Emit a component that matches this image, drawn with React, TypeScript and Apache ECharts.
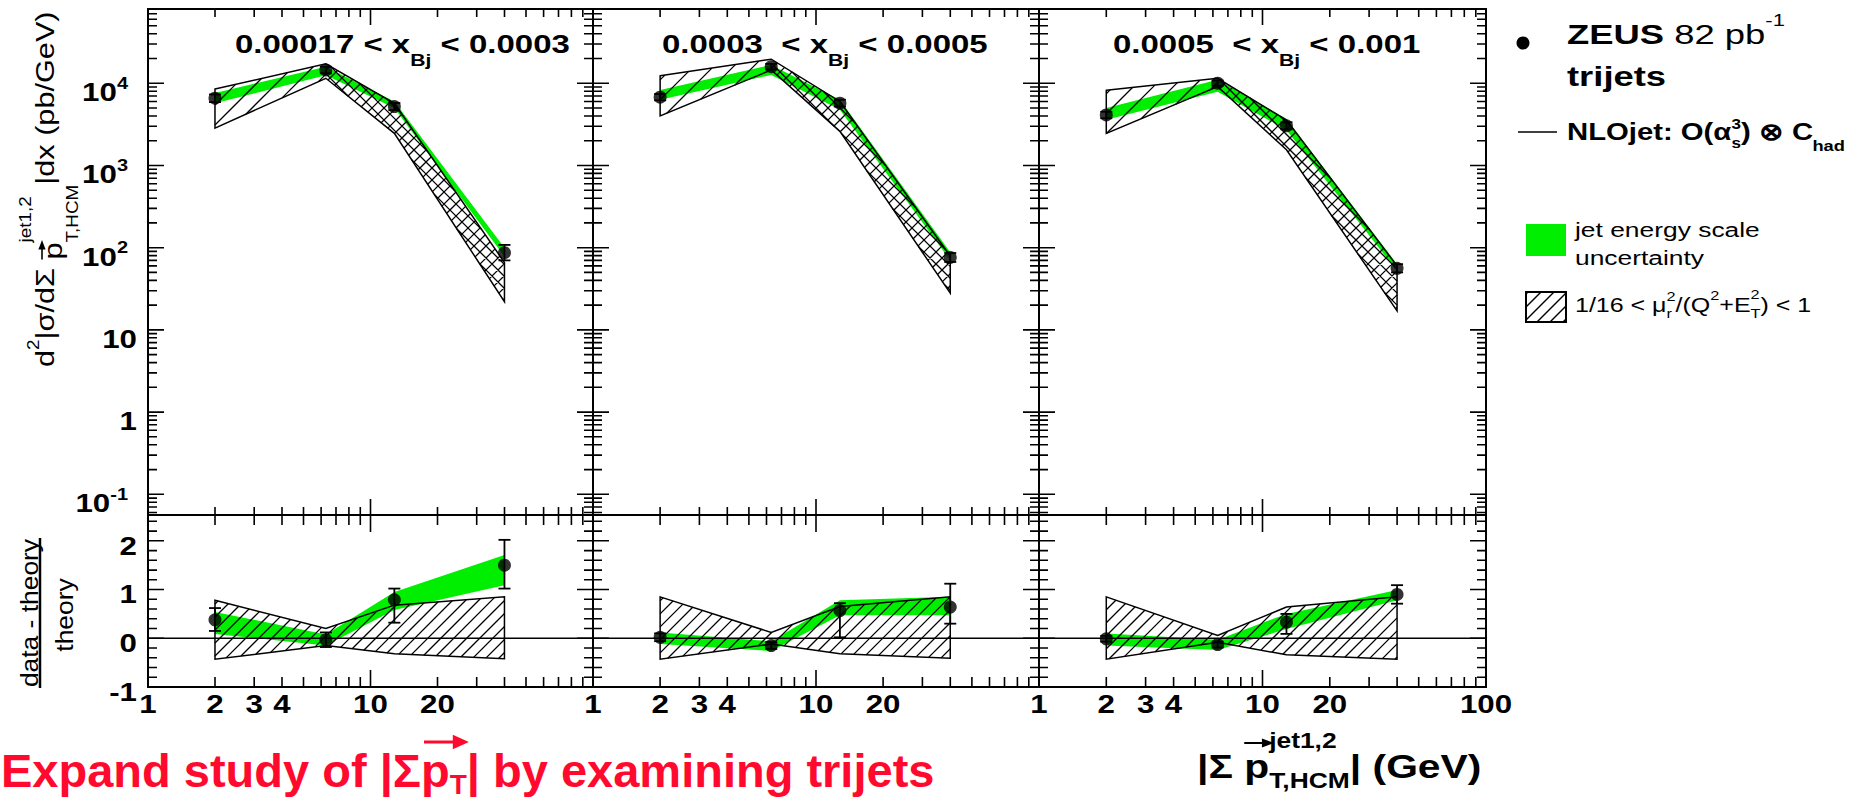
import React, { useEffect, useRef } from 'react';
import * as echarts from 'echarts';

const FONT = '"Liberation Sans", Arial, Helvetica, sans-serif';
const GREEN = '#00ee00';
const RED = '#ff0a2e';

// bin centres of |sum pT| (GeV)
const X_BINS = [2, 6.3, 12.8, 40];

// x_Bj ranges of the three columns
const TITLE_LOW = ['0.00017 < x', 'Bj', ' < 0.0003'];
const TITLE_MID = ['0.0003\u00a0 < x', 'Bj', ' < 0.0005'];
const TITLE_HIGH = ['0.0005\u00a0 < x', 'Bj', ' < 0.001'];

// measured cross sections (pb/GeV) and their error ranges
const XSEC_LOW = [6580, 14500, 5200, 87];
const XSEC_LOW_ERR = [[5900, 7300], [13200, 15900], [4700, 5750], [70, 108]];
const XSEC_MID = [6760, 15900, 5720, 76];
const XSEC_MID_ERR = [[6200, 7400], [14700, 17200], [5200, 6300], [67, 86]];
const XSEC_HIGH = [4120, 10000, 3030, 56];
const XSEC_HIGH_ERR = [[3750, 4500], [9300, 10800], [2750, 3350], [50, 63]];

// NLO scale-variation band (pb/GeV)
const NLO_LOW_LO = [2850, 11500, 2460, 22];
const NLO_LOW_HI = [8500, 17200, 5700, 66];
const NLO_MID_LO = [4000, 14500, 2600, 28];
const NLO_MID_HI = [12300, 19600, 6000, 79];
const NLO_HIGH_LO = [2450, 9100, 1550, 17];
const NLO_HIGH_HI = [8200, 11500, 3560, 60];

// jet energy scale band (pb/GeV)
const JES_LOW_LO = [5700, 12500, 5000, 78];
const JES_LOW_HI = [7600, 15900, 6000, 100];
const JES_MID_LO = [6300, 12600, 4750, 70];
const JES_MID_HI = [8300, 16700, 6300, 88];
const JES_HIGH_LO = [3600, 7900, 2700, 52];
const JES_HIGH_HI = [5000, 11000, 3700, 63];

// (data - theory) / theory
const RATIO_LOW = [0.38, -0.03, 0.79, 1.5];
const RATIO_LOW_ERR = [[0.15, 0.62], [-0.18, 0.12], [0.32, 1.02], [1.02, 2.02]];
const RATIO_MID = [0.02, -0.15, 0.57, 0.64];
const RATIO_MID_ERR = [[-0.06, 0.1], [-0.22, -0.08], [0.02, 0.72], [0.3, 1.12]];
const RATIO_HIGH = [-0.01, -0.13, 0.33, 0.9];
const RATIO_HIGH_ERR = [[-0.07, 0.05], [-0.19, -0.07], [0.09, 0.5], [0.71, 1.09]];

const RNLO_LOW_LO = [-0.43, -0.15, -0.32, -0.42];
const RNLO_LOW_HI = [0.78, 0.2, 0.68, 0.85];
const RNLO_MID_LO = [-0.43, -0.12, -0.32, -0.41];
const RNLO_MID_HI = [0.85, 0.12, 0.65, 0.85];
const RNLO_HIGH_LO = [-0.43, -0.08, -0.34, -0.43];
const RNLO_HIGH_HI = [0.85, 0.06, 0.64, 0.85];

const RJES_LOW_LO = [0.09, -0.15, 0.58, 1.09];
const RJES_LOW_HI = [0.54, 0.08, 0.95, 1.71];
const RJES_MID_LO = [-0.12, -0.26, 0.47, 0.47];
const RJES_MID_HI = [0.12, -0.06, 0.78, 0.85];
const RJES_HIGH_LO = [-0.15, -0.24, 0.19, 0.78];
const RJES_HIGH_HI = [0.1, -0.03, 0.5, 0.99];

// axis ticks and labels
const X_TICKS = [2, 3, 4, 5, 6, 7, 8, 9, 10, 20, 30, 40, 50, 60, 70, 80, 90];
const X_LABELS = [1, 2, 3, 4, 10, 20];
const X_LABELS_LAST = [1, 2, 3, 4, 10, 20, 100];
const Y_EXPONENTS = [-1, 0, 1, 2, 3, 4];
const RATIO_LABELS = [2, 1, 0, -1];
const Y_MIN = 0.056;
const Y_MAX = 80000;
const RATIO_MIN = -1;
const RATIO_MAX = 2.53;

const PANELS = [
  { title: TITLE_LOW, titleX: 235, xsec: XSEC_LOW, xsecErr: XSEC_LOW_ERR, nloLo: NLO_LOW_LO, nloHi: NLO_LOW_HI, jesLo: JES_LOW_LO, jesHi: JES_LOW_HI, ratio: RATIO_LOW, ratioErr: RATIO_LOW_ERR, rnloLo: RNLO_LOW_LO, rnloHi: RNLO_LOW_HI, rjesLo: RJES_LOW_LO, rjesHi: RJES_LOW_HI },
  { title: TITLE_MID, titleX: 662, xsec: XSEC_MID, xsecErr: XSEC_MID_ERR, nloLo: NLO_MID_LO, nloHi: NLO_MID_HI, jesLo: JES_MID_LO, jesHi: JES_MID_HI, ratio: RATIO_MID, ratioErr: RATIO_MID_ERR, rnloLo: RNLO_MID_LO, rnloHi: RNLO_MID_HI, rjesLo: RJES_MID_LO, rjesHi: RJES_MID_HI },
  { title: TITLE_HIGH, titleX: 1113, xsec: XSEC_HIGH, xsecErr: XSEC_HIGH_ERR, nloLo: NLO_HIGH_LO, nloHi: NLO_HIGH_HI, jesLo: JES_HIGH_LO, jesHi: JES_HIGH_HI, ratio: RATIO_HIGH, ratioErr: RATIO_HIGH_ERR, rnloLo: RNLO_HIGH_LO, rnloHi: RNLO_HIGH_HI, rjesLo: RJES_HIGH_LO, rjesHi: RJES_HIGH_HI },
];

const PANEL_LEFT = [148, 593, 1039];
const PANEL_WIDTH = [445, 446, 447];
const UPPER_TOP = 9;
const UPPER_H = 506;
const LOWER_TOP = 515;
const LOWER_H = 172;

let measureCtx: CanvasRenderingContext2D | null = null;
function textWidth(t: string, size: number, bold: boolean): number {
  if (!measureCtx) measureCtx = document.createElement('canvas').getContext('2d');
  if (!measureCtx) return t.length * size * 0.55;
  measureCtx.font = `${bold ? 'bold ' : ''}${size}px ${FONT}`;
  return measureCtx.measureText(t).width;
}

type Run = { t: string; size: number; bold?: boolean; dy?: number; stack?: boolean };

// lays out a sequence of text runs (with sub/superscripts) on one line
function runsGroup(runs: Run[], x: number, y: number, o: { sx?: number; rot?: number; fill?: string; anchor?: 'left' | 'right' | 'center' } = {}) {
  const fill = o.fill || '#000';
  let cursor = 0;
  let prevStart = 0;
  const placed = runs.map((r) => {
    const w = textWidth(r.t, r.size, !!r.bold);
    const x0 = r.stack ? prevStart : cursor;
    cursor = r.stack ? Math.max(cursor, x0 + w) : x0 + w;
    prevStart = x0;
    return { r, x0, w };
  });
  const total = cursor;
  const shift = o.anchor === 'right' ? -total : o.anchor === 'center' ? -total / 2 : 0;
  const children: any[] = placed.map(({ r, x0 }) => ({
    type: 'text',
    x: x0 + shift,
    y: r.dy || 0,
    style: {
      text: r.t,
      fontSize: r.size,
      fontWeight: r.bold ? 'bold' : 'normal',
      fontFamily: FONT,
      fill,
      align: 'left',
      verticalAlign: 'middle',
    },
  }));
  return {
    group: { type: 'group', x, y, rotation: o.rot || 0, scaleX: o.sx || 1, children },
    placed: placed.map((p) => ({ x0: p.x0 + shift, w: p.w })),
    total,
  };
}

function arrow(x1: number, x2: number, y: number, color: string, lw: number, head: number): any[] {
  return [
    { type: 'line', shape: { x1, y1: y, x2: x2 - head * 0.6, y2: y }, style: { stroke: color, lineWidth: lw } },
    { type: 'polygon', shape: { points: [[x2 - head, y - head * 0.45], [x2, y], [x2 - head, y + head * 0.45]] }, style: { fill: color } },
  ];
}

// hatch lines clipped to a polygon; dir 1 draws '/', dir -1 draws '\'
function hatch(poly: number[][], step: number, dir: number): number[][][] {
  const f = (p: number[]) => (dir === 1 ? p[0] + p[1] : p[0] - p[1]);
  const vals = poly.map(f);
  const cmin = Math.min(...vals);
  const cmax = Math.max(...vals);
  const segs: number[][][] = [];
  for (let c = Math.ceil(cmin / step) * step; c <= cmax; c += step) {
    const pts: number[][] = [];
    for (let i = 0; i < poly.length; i++) {
      const a = poly[i];
      const b = poly[(i + 1) % poly.length];
      const fa = f(a) - c;
      const fb = f(b) - c;
      if ((fa < 0) !== (fb < 0)) {
        const t = fa / (fa - fb);
        pts.push([a[0] + t * (b[0] - a[0]), a[1] + t * (b[1] - a[1])]);
      }
    }
    pts.sort((p, q) => p[0] - q[0]);
    for (let k = 0; k + 1 < pts.length; k += 2) segs.push([pts[k], pts[k + 1]]);
  }
  return segs;
}

function segsToPath(segs: number[][][]): string {
  return segs.map(([a, b]) => `M${a[0].toFixed(1)} ${a[1].toFixed(1)}L${b[0].toFixed(1)} ${b[1].toFixed(1)}`).join('');
}

function bandSeries(gi: number, lo: number[], hi: number[], mode: 'green' | 'hatch-upper' | 'hatch-lower') {
  return {
    type: 'custom',
    xAxisIndex: gi,
    yAxisIndex: gi,
    silent: true,
    z: mode === 'green' ? 2 : 3,
    data: X_BINS.map((x, i) => [x, lo[i], hi[i]]),
    encode: { x: 0, y: [1, 2] },
    renderItem: (params: any, api: any) => {
      if (params.dataIndex !== 0) return null;
      const top = X_BINS.map((x, i) => api.coord([x, hi[i]]));
      const bot = X_BINS.map((x, i) => api.coord([x, lo[i]]));
      const outline = [...top, ...bot.slice().reverse()];
      if (mode === 'green') {
        return { type: 'polygon', shape: { points: outline }, style: { fill: GREEN } };
      }
      let segs: number[][][] = [];
      if (mode === 'hatch-lower') {
        segs = hatch(outline, 13, 1);
      } else {
        const rise = [top[0], top[1], bot[1], bot[0]];
        const fall = [top[1], top[2], top[3], bot[3], bot[2], bot[1]];
        segs = [...hatch(rise, 20, 1), ...hatch(fall, 12, 1), ...hatch(fall, 12, -1)];
      }
      return {
        type: 'group',
        children: [
          { type: 'path', shape: { pathData: segsToPath(segs) }, style: { fill: 'none', stroke: '#000', lineWidth: 1.3 } },
          { type: 'polygon', shape: { points: outline }, style: { fill: 'none', stroke: '#000', lineWidth: 1.5 } },
        ],
      };
    },
  };
}

function errorSeries(gi: number, errs: number[][]) {
  return {
    type: 'custom',
    xAxisIndex: gi,
    yAxisIndex: gi,
    silent: true,
    z: 8,
    data: X_BINS.map((x, i) => [x, errs[i][0], errs[i][1]]),
    encode: { x: 0, y: [1, 2] },
    renderItem: (params: any, api: any) => {
      const x = api.value(0);
      const a = api.coord([x, api.value(1)]);
      const b = api.coord([x, api.value(2)]);
      const st = { stroke: '#000', lineWidth: 1.8 };
      return {
        type: 'group',
        children: [
          { type: 'line', shape: { x1: a[0], y1: a[1], x2: b[0], y2: b[1] }, style: st },
          { type: 'line', shape: { x1: a[0] - 6, y1: a[1], x2: a[0] + 6, y2: a[1] }, style: st },
          { type: 'line', shape: { x1: b[0] - 6, y1: b[1], x2: b[0] + 6, y2: b[1] }, style: st },
        ],
      };
    },
  };
}

function frameSeries(panel: number, lower: boolean) {
  const gi = panel * 2 + (lower ? 1 : 0);
  return {
    type: 'custom',
    xAxisIndex: gi,
    yAxisIndex: gi,
    silent: true,
    z: 20,
    clip: false,
    data: [[10, lower ? 0 : 1]],
    renderItem: (params: any, api: any) => {
      const cs = params.coordSys;
      const L = cs.x;
      const R = cs.x + cs.width;
      const T = cs.y;
      const B = cs.y + cs.height;
      const yRef = lower ? 0 : 1;
      const parts: string[] = [];
      const seg = (x1: number, y1: number, x2: number, y2: number) => parts.push(`M${x1.toFixed(1)} ${y1.toFixed(1)}L${x2.toFixed(1)} ${y2.toFixed(1)}`);
      const xMinor = lower ? 10 : 8;
      const xMajor = lower ? 17 : 16;
      X_TICKS.forEach((v) => {
        const px = api.coord([v, yRef])[0];
        const len = v === 10 ? xMajor : xMinor;
        seg(px, T, px, T + len);
        seg(px, B, px, B - len);
      });
      const yTicks: { v: number; major: boolean }[] = [];
      if (lower) {
        for (let k = -4; k <= 12; k++) {
          const v = k / 5;
          if (v > RATIO_MIN && v < RATIO_MAX) yTicks.push({ v, major: k % 5 === 0 });
        }
      } else {
        for (let e = -2; e <= 4; e++) {
          for (let m = 1; m <= 9; m++) {
            const v = m * Math.pow(10, e);
            if (v > Y_MIN && v < Y_MAX) yTicks.push({ v, major: m === 1 });
          }
        }
      }
      yTicks.forEach(({ v, major }) => {
        const py = api.coord([10, v])[1];
        const len = major ? 16 : 9;
        seg(L, py, L + len, py);
        seg(R, py, R - len, py);
      });
      const children: any[] = [
        { type: 'path', shape: { pathData: parts.join('') }, style: { fill: 'none', stroke: '#000', lineWidth: 1.6 } },
      ];
      if (lower) {
        (panel === 2 ? X_LABELS_LAST : X_LABELS).forEach((v) => {
          const px = api.coord([v, 0])[0];
          children.push(runsGroup([{ t: String(v), size: 25, bold: true }], px, B + 17, { sx: 1.25, anchor: 'center' }).group);
        });
        if (panel === 0) {
          RATIO_LABELS.forEach((v) => {
            const py = api.coord([10, v])[1];
            children.push(runsGroup([{ t: String(v), size: 25, bold: true }], L - 11, py + 5, { sx: 1.25, anchor: 'right' }).group);
          });
        }
      } else if (panel === 0) {
        Y_EXPONENTS.forEach((k) => {
          const py = api.coord([10, Math.pow(10, k)])[1];
          if (k === 0 || k === 1) {
            children.push(runsGroup([{ t: k === 0 ? '1' : '10', size: 25, bold: true }], L - 11, py + 9, { sx: 1.25, anchor: 'right' }).group);
          } else {
            children.push(
              runsGroup([{ t: '10', size: 25, bold: true }, { t: String(k), size: 16, bold: true, dy: -9 }], L - 20, py + 9, { sx: 1.25, anchor: 'right' }).group,
            );
          }
        });
      }
      return { type: 'group', children };
    },
  };
}

function buildGraphic(): any[] {
  const els: any[] = [];
  PANELS.forEach((p) => {
    els.push(
      runsGroup(
        [
          { t: p.title[0], size: 25, bold: true },
          { t: p.title[1], size: 16, bold: true, dy: 16 },
          { t: p.title[2], size: 25, bold: true },
        ],
        p.titleX,
        44,
        { sx: 1.32 },
      ).group,
    );
  });

  // y title of the cross-section panels
  const yt = runsGroup(
    [
      { t: 'd', size: 26 },
      { t: '2', size: 16, dy: -11 },
      { t: '|σ/dΣ ', size: 26 },
      { t: 'p', size: 26, dy: 8 },
      { t: 'jet1,2', size: 16, dy: -19 },
      { t: 'T,HCM', size: 16, dy: 28, stack: true },
      { t: '|dx (pb/GeV)', size: 26 },
    ],
    45,
    367,
    { sx: 1.18, rot: Math.PI / 2 },
  );
  const pv = yt.placed[3];
  yt.group.children.push(...arrow(pv.x0, pv.x0 + pv.w + 2, -3, '#000', 1.6, 8));
  els.push(yt.group);

  // y title of the ratio panels
  els.push(runsGroup([{ t: 'data - theory', size: 24 }], 29, 613, { sx: 1.1, rot: Math.PI / 2, anchor: 'center' }).group);
  els.push({ type: 'line', shape: { x1: 40, y1: 538, x2: 40, y2: 688 }, style: { stroke: '#000', lineWidth: 2.5 } });
  els.push(runsGroup([{ t: 'theory', size: 24 }], 64, 615, { sx: 1.1, rot: Math.PI / 2, anchor: 'center' }).group);

  // x title
  const xt = runsGroup(
    [
      { t: '|Σ ', size: 34, bold: true },
      { t: 'p', size: 34, bold: true },
      { t: 'jet1,2', size: 22, bold: true, dy: -26 },
      { t: 'T,HCM', size: 22, bold: true, dy: 14, stack: true },
      { t: '| (GeV)', size: 34, bold: true },
    ],
    1197,
    766,
    { sx: 1.2 },
  );
  const px = xt.placed[1];
  xt.group.children.push(...arrow(px.x0, px.x0 + px.w + 4, -23, '#000', 2, 10));
  els.push(xt.group);

  // legend
  els.push({ type: 'circle', shape: { cx: 1523, cy: 43, r: 6.5 }, style: { fill: '#000' } });
  els.push(
    runsGroup(
      [
        { t: 'ZEUS', size: 28, bold: true },
        { t: ' 82 pb', size: 28 },
        { t: '-1', size: 17, dy: -15 },
      ],
      1567,
      35,
      { sx: 1.3 },
    ).group,
  );
  els.push(runsGroup([{ t: 'trijets', size: 28, bold: true }], 1567, 77, { sx: 1.3 }).group);
  els.push({ type: 'line', shape: { x1: 1518, y1: 132, x2: 1557, y2: 132 }, style: { stroke: '#000', lineWidth: 1.6 } });
  els.push(
    runsGroup(
      [
        { t: 'NLOjet: O(α', size: 24, bold: true },
        { t: '3', size: 14, bold: true, dy: -8 },
        { t: 's', size: 14, bold: true, dy: 11, stack: true },
        { t: ') ⊗ C', size: 24, bold: true },
        { t: 'had', size: 15, bold: true, dy: 14 },
      ],
      1567,
      132,
      { sx: 1.22 },
    ).group,
  );
  els.push({ type: 'rect', shape: { x: 1526, y: 224, width: 40, height: 32 }, style: { fill: GREEN } });
  els.push(runsGroup([{ t: 'jet energy scale', size: 20 }], 1575, 230, { sx: 1.32 }).group);
  els.push(runsGroup([{ t: 'uncertainty', size: 20 }], 1575, 258, { sx: 1.32 }).group);
  const box = [[1526, 292], [1566, 292], [1566, 322], [1526, 322]];
  hatch(box, 13, 1).forEach(([a, b]) => {
    els.push({ type: 'line', shape: { x1: a[0], y1: a[1], x2: b[0], y2: b[1] }, style: { stroke: '#000', lineWidth: 1.5 } });
  });
  els.push({ type: 'rect', shape: { x: 1526, y: 292, width: 40, height: 30 }, style: { fill: 'none', stroke: '#000', lineWidth: 2 } });
  els.push(
    runsGroup(
      [
        { t: '1/16 < μ', size: 20 },
        { t: '2', size: 13, dy: -8 },
        { t: 'r', size: 13, dy: 9, stack: true },
        { t: '/(Q', size: 20 },
        { t: '2', size: 13, dy: -9 },
        { t: '+E', size: 20 },
        { t: '2', size: 13, dy: -10 },
        { t: 'T', size: 13, dy: 9, stack: true },
        { t: ') < 1', size: 20 },
      ],
      1575,
      305,
      { sx: 1.25 },
    ).group,
  );

  // slide caption
  const cap = runsGroup(
    [
      { t: 'Expand study of |Σ', size: 47, bold: true },
      { t: 'p', size: 47, bold: true },
      { t: 'T', size: 28, bold: true, dy: 14 },
      { t: '| by examining trijets', size: 47, bold: true },
    ],
    1,
    770,
    { fill: RED },
  );
  const cp = cap.placed[1];
  const ct = cap.placed[2];
  cap.group.children.push(...arrow(cp.x0 + 3, ct.x0 + ct.w + 2, -28, RED, 3, 16));
  els.push(cap.group);
  return els;
}

function buildOption(): any {
  const grid: any[] = [];
  const xAxis: any[] = [];
  const yAxis: any[] = [];
  const series: any[] = [];
  PANELS.forEach((p, i) => {
    const left = PANEL_LEFT[i];
    const width = PANEL_WIDTH[i];
    grid.push({ left, top: UPPER_TOP, width, height: UPPER_H, show: true, borderColor: '#000', borderWidth: 2, backgroundColor: 'transparent' });
    grid.push({ left, top: LOWER_TOP, width, height: LOWER_H, show: true, borderColor: '#000', borderWidth: 2, backgroundColor: 'transparent' });
    const gu = i * 2;
    const gl = i * 2 + 1;
    xAxis.push({ gridIndex: gu, type: 'log', logBase: 10, min: 1, max: 100, show: false });
    xAxis.push({ gridIndex: gl, type: 'log', logBase: 10, min: 1, max: 100, show: false });
    yAxis.push({ gridIndex: gu, type: 'log', logBase: 10, min: Y_MIN, max: Y_MAX, show: false });
    yAxis.push({ gridIndex: gl, type: 'value', min: RATIO_MIN, max: RATIO_MAX, show: false });

    series.push(bandSeries(gu, p.jesLo, p.jesHi, 'green'));
    series.push(bandSeries(gu, p.nloLo, p.nloHi, 'hatch-upper'));
    series.push(errorSeries(gu, p.xsecErr));
    series.push({
      type: 'scatter', xAxisIndex: gu, yAxisIndex: gu, silent: true, z: 10,
      data: X_BINS.map((x, k) => [x, p.xsec[k]]), symbolSize: 13, itemStyle: { color: '#000' },
    });

    series.push(bandSeries(gl, p.rjesLo, p.rjesHi, 'green'));
    series.push(bandSeries(gl, p.rnloLo, p.rnloHi, 'hatch-lower'));
    series.push({
      type: 'line', xAxisIndex: gl, yAxisIndex: gl, silent: true, z: 6, symbol: 'none',
      data: [[1, 0], [100, 0]], lineStyle: { color: '#000', width: 1.5 },
    });
    series.push(errorSeries(gl, p.ratioErr));
    series.push({
      type: 'scatter', xAxisIndex: gl, yAxisIndex: gl, silent: true, z: 10,
      data: X_BINS.map((x, k) => [x, p.ratio[k]]), symbolSize: 13, itemStyle: { color: '#000' },
    });

    series.push(frameSeries(i, false));
    series.push(frameSeries(i, true));
  });
  return {
    animation: false,
    backgroundColor: '#fff',
    textStyle: { fontFamily: FONT },
    grid,
    xAxis,
    yAxis,
    series,
    graphic: { elements: buildGraphic() },
  };
}

export default function App() {
  const ref = useRef<HTMLDivElement>(null);
  useEffect(() => {
    if (!ref.current) return;
    const chart = echarts.init(ref.current, undefined, { renderer: 'svg' });
    chart.setOption(buildOption());
    return () => chart.dispose();
  }, []);
  return <div ref={ref} style={{ position: 'absolute', left: 0, top: 0, width: 1849, height: 798, background: '#fff' }} />;
}
